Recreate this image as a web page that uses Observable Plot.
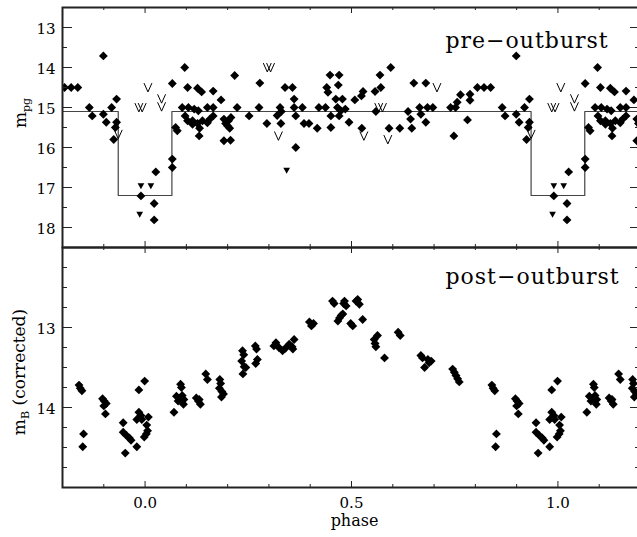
<!DOCTYPE html>
<html><head><meta charset="utf-8">
<script src="https://cdn.jsdelivr.net/npm/d3@7"></script>
<script src="https://cdn.jsdelivr.net/npm/@observablehq/plot@0.6"></script>
<style>
html,body{margin:0;padding:0;background:#fff;overflow:hidden}
#wrap{position:relative;width:637px;height:537px;overflow:hidden;background:#fff}
#wrap svg{position:absolute;left:0}
</style></head><body><div id="wrap"></div>
<script>
// ---------- DATA (phase in [0,1); the chart shows each phase folded twice) ----------
const preDiamonds = [
[0.990,17.21],[0.022,17.40],[0.022,17.81],[0.026,16.61],[0.066,16.29],[0.066,16.50],
[0.066,14.40],[0.096,14.00],[0.103,14.50],[0.127,14.52],[0.137,14.61],[0.165,14.59],[0.184,14.81],[0.217,14.20],[0.223,15.00],
[0.090,15.00],[0.105,15.00],[0.119,15.04],[0.129,15.08],[0.151,15.00],[0.165,15.00],
[0.097,15.21],[0.103,15.33],[0.115,15.33],[0.127,15.40],[0.139,15.33],[0.157,15.29],[0.165,15.21],
[0.074,15.50],[0.078,15.58],[0.131,15.71],[0.132,15.52],[0.115,15.42],[0.151,15.38],
[0.191,15.29],[0.202,15.33],[0.200,15.46],[0.208,15.25],[0.195,15.40],[0.205,15.52],[0.191,15.83],[0.207,15.82],
[0.252,15.21],[0.276,15.00],[0.278,14.39],[0.295,15.40],[0.320,15.20],[0.327,15.00],[0.330,15.10],[0.329,15.40],
[0.339,14.50],[0.357,14.50],[0.361,14.79],[0.361,15.00],[0.365,15.21],[0.365,16.00],[0.381,15.00],[0.385,15.40],[0.397,15.40],
[0.417,15.52],[0.421,15.00],[0.437,15.00],[0.448,14.19],[0.470,14.19],[0.440,14.50],[0.443,14.62],[0.468,14.44],
[0.462,14.79],[0.478,14.79],[0.450,15.21],[0.450,15.50],[0.466,15.00],[0.474,15.08],[0.485,15.04],[0.470,15.21],[0.494,15.37],
[0.508,14.81],[0.524,14.71],[0.528,14.60],[0.557,14.60],[0.571,14.50],[0.569,14.19],[0.595,14.00],
[0.525,15.52],[0.559,15.10],[0.591,15.52],[0.617,15.52],[0.646,15.52],[0.637,15.10],[0.643,15.29],
[0.651,14.39],[0.680,14.39],[0.665,15.00],[0.684,15.00],[0.697,15.00],[0.668,15.17],[0.680,15.37],
[0.740,15.00],[0.752,15.00],[0.748,15.71],[0.756,14.87],[0.764,14.68],[0.787,14.67],[0.787,14.82],[0.781,15.31],
[0.805,14.50],[0.821,14.50],[0.837,14.50],[0.865,15.00],[0.872,15.21],[0.899,13.71],[0.899,15.17],[0.906,15.37],
[0.919,15.00],[0.931,14.79],[0.931,15.37],[0.928,15.50],[0.924,15.80]
];
const preTriangles = [[0.990,16.97],[0.014,16.97],[0.343,16.58],[0.987,17.68]];
const preLimits = [
[0.007,14.50],[0.985,15.00],[0.993,15.00],[0.040,14.78],[0.040,14.98],[0.296,14.00],[0.304,14.00],
[0.323,15.71],[0.530,15.71],[0.566,15.00],[0.575,15.00],[0.588,15.80],[0.707,14.50],[0.935,15.67]
];
const eclipsePhase = [-0.2,-0.065,-0.065,0.065,0.065,0.935,0.935,1.065,1.065,1.2];
const eclipseMag   = [15.1,15.1,17.2,17.2,15.1,15.1,17.2,17.2,15.1,15.1];

const postDiamonds = [
[0.947,14.19],[0.947,14.31],[0.955,14.35],[0.962,14.38],[0.966,14.41],[0.952,14.57],[0.980,14.49],[0.985,13.78],[0.999,13.67],
[0.985,14.06],[0.980,14.15],[0.992,14.15],[0.008,14.12],[0.006,14.29],[0.998,14.37],[0.003,14.33],[0.004,14.22],[0.990,14.10],
[0.840,13.72],[0.843,13.76],[0.847,13.79],[0.851,14.33],[0.849,14.49],[0.897,13.89],[0.901,13.92],[0.906,13.95],[0.900,13.98],[0.904,14.08],
[0.070,14.06],[0.076,13.86],[0.080,13.92],[0.086,13.71],[0.088,13.75],[0.090,13.85],[0.094,13.90],[0.093,13.96],[0.084,13.89],
[0.124,13.88],[0.129,13.92],[0.134,13.96],[0.131,13.90],[0.147,13.58],[0.151,13.65],
[0.181,13.65],[0.183,13.70],[0.180,13.76],[0.186,13.80],[0.190,13.83],[0.185,13.87],
[0.236,13.29],[0.239,13.34],[0.234,13.42],[0.240,13.49],[0.237,13.58],[0.244,13.50],
[0.267,13.23],[0.270,13.27],[0.272,13.40],[0.268,13.45],
[0.312,13.23],[0.317,13.19],[0.324,13.25],[0.333,13.29],[0.340,13.26],[0.349,13.21],[0.356,13.24],[0.361,13.15],[0.358,13.27],
[0.398,12.93],[0.403,12.98],[0.408,12.95],
[0.454,12.67],[0.458,12.70],[0.483,12.67],[0.487,12.73],[0.481,12.70],[0.511,12.67],[0.515,12.65],[0.519,12.71],
[0.467,12.92],[0.471,12.88],[0.475,12.85],[0.479,12.83],[0.498,12.95],[0.503,12.98],[0.527,12.90],
[0.555,13.15],[0.557,13.20],[0.559,13.24],[0.563,13.10],[0.580,13.38],[0.613,13.06],[0.618,13.10],
[0.668,13.35],[0.672,13.38],[0.677,13.50],[0.685,13.40],[0.693,13.42],[0.688,13.44],
[0.745,13.52],[0.749,13.56],[0.753,13.60],[0.757,13.64],[0.761,13.68]
];

const xMajor = [0.0, 0.5, 1.0];
const xMinor = [-0.1, 0.1, 0.2, 0.3, 0.4, 0.6, 0.7, 0.8, 0.9, 1.1];
const topYMajor = [13, 14, 15, 16, 17, 18];
const topYMinor = [13.5, 14.5, 15.5, 16.5, 17.5];
const botYMajor = [13, 14];
const botYMinor = [12.25, 12.5, 12.75, 13.25, 13.5, 13.75, 14.25, 14.5, 14.75];

// ---------- helpers ----------
const fold = pairs => pairs.flatMap(([p, m]) =>
  [p - 1, p, p + 1].filter(x => x > -0.25 && x < 1.25).map(x => ({phase: x, mag: m})));
const stepData = eclipsePhase.map((p, i) => ({phase: p, mag: eclipseMag[i]}));

const vSym = {draw(ctx, size) {const s = Math.sqrt(size), w = 0.45 * s, h = 0.5 * s;
  ctx.moveTo(-w, -h); ctx.lineTo(0, h); ctx.lineTo(w, -h);}};
const downTri = {draw(ctx, size) {const s = Math.sqrt(size), w = 0.42 * s, h = 0.37 * s;
  ctx.moveTo(-w, -h); ctx.lineTo(w, -h); ctx.lineTo(0, h); ctx.closePath();}};

const W = 640, ML = 62, PW = W - ML, PH = 240;
const INK = "#222";
const style = {fontFamily: "DejaVu Serif", background: "transparent", overflow: "visible", maxWidth: "none", color: "#000"};

function frameMarks(yMajor, yMinor) {
  return [
    Plot.tickY(yMajor, {y: d => d, insetRight: PW - 10, stroke: INK}),
    Plot.tickY(yMinor, {y: d => d, insetRight: PW - 5, stroke: INK}),
    Plot.tickY(yMajor, {y: d => d, insetLeft: PW - 10, stroke: INK}),
    Plot.tickY(yMinor, {y: d => d, insetLeft: PW - 5, stroke: INK}),
    Plot.tickX(xMajor, {x: d => d, insetBottom: PH - 6, stroke: INK}),
    Plot.tickX(xMinor, {x: d => d, insetBottom: PH - 3, stroke: INK}),
    Plot.tickX(xMajor, {x: d => d, insetTop: PH - 6, stroke: INK}),
    Plot.tickX(xMinor, {x: d => d, insetTop: PH - 3, stroke: INK}),
    Plot.frame({stroke: INK, strokeWidth: 2}),
    Plot.text(yMajor, {y: d => d, text: d => String(d), frameAnchor: "left", textAnchor: "end",
      lineAnchor: "bottom", dx: -7, dy: 6, fontSize: 15})
  ];
}

const topPlot = Plot.plot({
  width: W, height: 247, marginLeft: ML, marginRight: 0, marginTop: 7, marginBottom: 0,
  x: {domain: [-0.2, 1.2], axis: null},
  y: {domain: [12.5, 18.5], reverse: true, axis: null},
  style,
  marks: [
    Plot.line(stepData, {x: "phase", y: "mag", stroke: "#444", strokeWidth: 1.2}),
    Plot.dot(fold(preDiamonds), {x: "phase", y: "mag", symbol: "diamond2", r: 4, fill: "#000", stroke: "none", clip: true}),
    Plot.dot(fold(preTriangles), {x: "phase", y: "mag", symbol: downTri, r: 4.5, fill: "#000", stroke: "none", clip: true}),
    Plot.dot(fold(preLimits), {x: "phase", y: "mag", symbol: vSym, r: 5, fill: "none", stroke: "#000", strokeWidth: 1, clip: true}),
    ...frameMarks(topYMajor, topYMinor),
    Plot.text(["pre\u2212outburst"], {frameAnchor: "top-left", textAnchor: "start", lineAnchor: "bottom", dx: 383, dy: 40, fontSize: 22})
  ]
});
topPlot.style.top = "0px";

const botPlot = Plot.plot({
  width: W, height: 290, marginLeft: ML, marginRight: 0, marginTop: 0, marginBottom: 50,
  x: {domain: [-0.2, 1.2], axis: null},
  y: {domain: [12, 15], reverse: true, axis: null},
  style,
  marks: [
    Plot.dot(fold(postDiamonds), {x: "phase", y: "mag", symbol: "diamond2", r: 4, fill: "#000", stroke: "none", clip: true}),
    ...frameMarks(botYMajor, botYMinor),
    Plot.text(xMajor, {x: d => d, text: d => d.toFixed(1), frameAnchor: "bottom", lineAnchor: "bottom", dy: 20, fontSize: 15}),
    Plot.text(["phase"], {frameAnchor: "bottom", lineAnchor: "bottom", dx: 3, dy: 38, fontSize: 16}),
    Plot.text(["post\u2212outburst"], {frameAnchor: "top-left", textAnchor: "start", lineAnchor: "bottom", dx: 383, dy: 36, fontSize: 22})
  ]
});
botPlot.style.top = "247px";

const wrap = document.getElementById("wrap");
wrap.appendChild(topPlot);
wrap.appendChild(botPlot);

d3.selectAll("#wrap text").filter(function() {return /outburst/.test(this.textContent);})
  .style("letter-spacing", "1px");

// rotated y-axis titles with subscripts
function yTitle(svg, x, y, sub, rest) {
  const t = d3.select(svg).append("text")
    .attr("transform", `translate(${x},${y}) rotate(-90)`)
    .attr("text-anchor", "middle").attr("font-family", "DejaVu Serif").attr("font-size", 17).attr("fill", "#000");
  t.append("tspan").text("m");
  t.append("tspan").attr("font-size", 11).attr("dy", 4).text(sub);
  if (rest) t.append("tspan").attr("dy", -4).text(rest);
}
yTitle(topPlot, 26, 113, "pg", null);
yTitle(botPlot, 25, 125, "B", " (corrected)");
</script></body></html>
